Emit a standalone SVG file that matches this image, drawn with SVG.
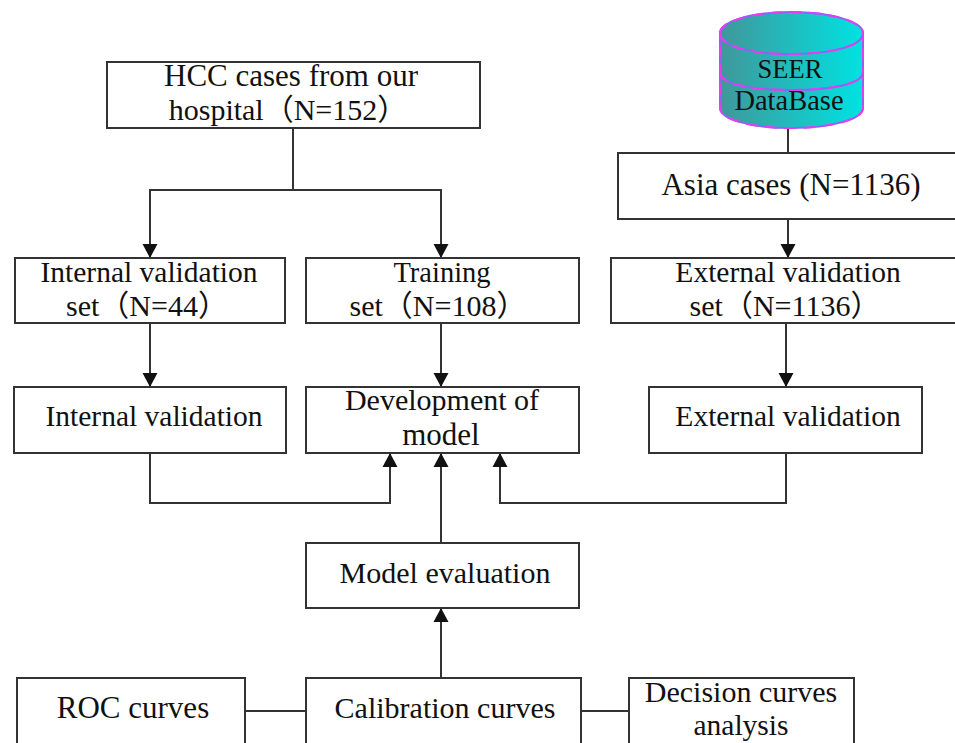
<svg xmlns="http://www.w3.org/2000/svg" width="955" height="743" viewBox="0 0 955 743">
<style>
.b{fill:#fff;stroke:#333;stroke-width:2}
.c{fill:none;stroke:#333;stroke-width:2}
.t{font-family:"Liberation Serif","Noto Sans CJK SC",serif;font-size:30px;fill:#111;text-anchor:middle}
.s26{font-size:26.5px}
.s28{font-size:28.5px}
.s29{font-size:29.5px}
.s31{font-size:31px}
.v{fill:none;stroke:#8f62f5;stroke-width:2}
.d{fill:none;stroke:#e83cf0;stroke-width:2;stroke-dasharray:12 7}
</style>
<defs>
<marker id="a" markerUnits="userSpaceOnUse" markerWidth="16" markerHeight="16" refX="14" refY="8" orient="auto"><path d="M0 0.5L14 8L0 15.5Z" fill="#111"/></marker>
<linearGradient id="g" x1="0" x2="1" y1="0" y2="0"><stop offset="0" stop-color="#40979a"/><stop offset="1" stop-color="#00e2e2"/></linearGradient>
<path id="body" d="M720 33C720 22 750 12 791 12C832 12 863 22 863 33V108C863 119 832 128 791 128C750 128 720 119 720 108Z"/>
<path id="e1" d="M720 33C720 46 750 54 791 54C832 54 863 46 863 33"/>
<path id="e2" d="M720 72C720 84 750 90 791 90C832 90 863 84 863 72"/>
</defs>
<rect width="955" height="743" fill="#fff"/>
<g id="connectors">
<path class="c" d="M293 128V190"/>
<path class="c" d="M150 258V190H441V258" marker-end="url(#a)"/>
<path class="c" d="M150 190V258" marker-end="url(#a)"/>
<path class="c" d="M788 128V153"/>
<path class="c" d="M788 219V258" marker-end="url(#a)"/>
<path class="c" d="M150 323V387" marker-end="url(#a)"/>
<path class="c" d="M441 323V387" marker-end="url(#a)"/>
<path class="c" d="M786 323V387" marker-end="url(#a)"/>
<path class="c" d="M150 453V503H390V453" marker-end="url(#a)"/>
<path class="c" d="M786 453V503H500V453" marker-end="url(#a)"/>
<path class="c" d="M441 543V453" marker-end="url(#a)"/>
<path class="c" d="M441 678V608" marker-end="url(#a)"/>
<path class="c" d="M245 711H306M581 711H629"/>
</g>
<g id="seer">
<use href="#body" fill="url(#g)"/>
<use href="#body" class="v"/><use href="#body" class="d"/>
<use href="#e1" class="v"/><use href="#e1" class="d"/>
<use href="#e2" class="v"/><use href="#e2" class="d"/>
<text class="t s26" x="790" y="78">SEER</text>
<text class="t s28" x="789" y="110">DataBase</text>
</g>
<g id="hcc"><rect class="b" x="107" y="62" width="373" height="66"/><text class="t s31" x="291" y="86">HCC cases from our</text><text class="t" x="288" y="120">hospital（N=152）</text></g>
<g id="asia"><rect class="b" x="618" y="153" width="338" height="66"/><text class="t s31" x="791" y="195">Asia cases (N=1136)</text></g>
<g id="internal-set"><rect class="b" x="15" y="258" width="270" height="65"/><text class="t s29" x="149" y="282">Internal validation</text><text class="t" x="147" y="316">set（N=44）</text></g>
<g id="training"><rect class="b" x="306" y="258" width="273" height="65"/><text class="t s28" x="442" y="282">Training</text><text class="t" x="438" y="316">set（N=108）</text></g>
<g id="external-set"><rect class="b" x="611" y="258" width="345" height="65"/><text class="t s29" x="788" y="282">External validation</text><text class="t" x="785" y="316">set（N=1136）</text></g>
<g id="internal"><rect class="b" x="14" y="387" width="272" height="66"/><text class="t s29" x="154" y="426">Internal validation</text></g>
<g id="development"><rect class="b" x="306" y="387" width="273" height="66"/><text class="t" x="442" y="410">Development of</text><text class="t s31" x="441" y="445">model</text></g>
<g id="external"><rect class="b" x="649" y="387" width="273" height="66"/><text class="t s29" x="788" y="426">External validation</text></g>
<g id="evaluation"><rect class="b" x="306" y="543" width="273" height="65"/><text class="t" x="445" y="583">Model evaluation</text></g>
<g id="roc"><rect class="b" x="17" y="678" width="228" height="70"/><text class="t s31" x="133" y="718">ROC curves</text></g>
<g id="calibration"><rect class="b" x="306" y="678" width="275" height="70"/><text class="t" x="445" y="718">Calibration curves</text></g>
<g id="decision"><rect class="b" x="629" y="678" width="225" height="70"/><text class="t" x="741" y="702">Decision curves</text><text class="t s29" x="741" y="735">analysis</text></g>
</svg>
